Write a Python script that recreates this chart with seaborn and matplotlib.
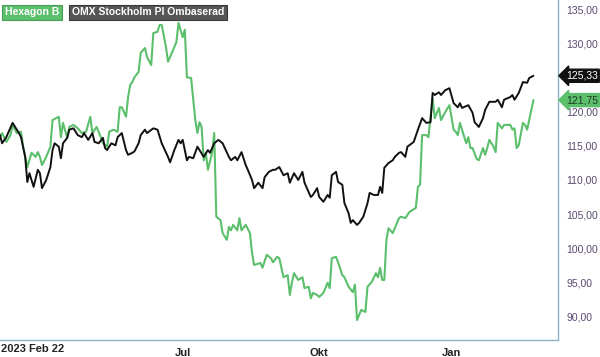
import seaborn as sns
import matplotlib.pyplot as plt
import matplotlib.transforms as mtransforms
import pandas as pd

# trading day number (0 = 2023 Feb 22) and closing level
omx_day = [0, 1, 3, 6, 9, 10, 12, 13, 14, 16, 18, 19, 20, 22, 24, 25, 26, 28, 29, 30,
           32, 33, 35, 37, 39, 40, 42, 44, 45, 47, 49, 50, 51, 53, 55, 56, 58, 60, 61, 63,
           64, 66, 67, 69, 70, 73, 75, 77, 80, 81, 83, 85, 86, 87, 89, 90, 92, 94, 95, 97,
           99, 100, 102, 104, 106, 109, 110, 112, 113, 115, 117, 118, 120, 121, 123, 125, 126, 128, 130, 131,
           133, 135, 137, 138, 140, 142, 144, 145, 148, 149, 151, 152, 154, 156, 157, 158, 160, 161, 163, 164,
           166, 167, 168, 170, 171, 173, 175, 176, 178, 180, 181, 182, 183, 185, 187, 188, 190, 191, 193, 194,
           197, 199, 201, 203, 205, 206, 207, 209, 210, 212, 214, 216, 218, 219, 220, 223, 225, 226, 228, 230,
           231, 233, 236, 237, 239, 240, 243, 244, 245, 247, 249, 251, 252, 254]
omx_val = [116.6, 115.4, 116.3, 118.4, 116.9, 116.3, 113.4, 109.7, 111.0, 109.0, 111.5, 111.0, 108.8, 110.0, 111.9, 114.4, 115.4, 114.9, 113.2, 115.4,
           116.2, 117.4, 117.6, 116.6, 116.3, 116.9, 115.9, 116.9, 115.6, 115.4, 116.2, 114.7, 114.4, 115.4, 115.1, 116.3, 116.9, 114.4, 113.7, 114.0,
           114.2, 115.4, 116.6, 117.4, 116.9, 117.6, 117.4, 115.4, 113.4, 112.6, 114.4, 115.9, 115.4, 115.9, 112.9, 113.4, 113.2, 114.9, 114.4, 113.4,
           114.4, 114.0, 115.4, 115.9, 115.4, 113.4, 112.9, 113.4, 112.9, 114.1, 112.2, 111.5, 110.0, 108.8, 109.6, 108.8, 110.4, 111.2, 111.5, 111.5,
           111.9, 110.7, 111.0, 109.6, 111.0, 110.0, 111.2, 109.6, 107.5, 107.8, 108.8, 107.5, 106.8, 107.8, 107.4, 110.7, 111.2, 109.7, 109.3, 106.6,
           105.1, 103.7, 104.1, 103.4, 103.7, 104.6, 106.6, 108.1, 107.8, 107.8, 109.0, 108.1, 111.8, 112.5, 112.9, 113.4, 114.0, 114.1, 113.4, 114.9,
           115.6, 117.4, 119.1, 118.4, 118.5, 122.8, 122.5, 122.9, 122.5, 123.2, 123.5, 121.3, 120.7, 121.3, 120.6, 121.0, 119.9, 118.5, 117.8, 119.1,
           120.3, 121.5, 121.5, 121.8, 120.7, 121.8, 122.2, 122.5, 121.8, 122.8, 124.4, 124.3, 125.0, 125.33]

hex_day = [0, 1, 3, 5, 6, 8, 10, 11, 12, 13, 15, 17, 18, 19, 20, 22, 24, 25, 28, 29,
           30, 32, 33, 35, 37, 39, 41, 43, 44, 46, 48, 49, 51, 52, 54, 56, 57, 58, 60, 61,
           62, 63, 64, 66, 67, 69, 70, 72, 73, 75, 76, 77, 79, 80, 82, 84, 85, 87, 88, 89,
           91, 93, 94, 95, 96, 97, 98, 99, 101, 102, 103, 105, 106, 108, 109, 110, 111, 113, 114, 115,
           117, 119, 120, 121, 124, 125, 127, 129, 130, 132, 133, 135, 137, 138, 139, 140, 142, 144, 145, 147,
           148, 149, 151, 152, 154, 156, 157, 158, 160, 161, 163, 164, 166, 168, 169, 170, 172, 174, 175, 177,
           179, 180, 181, 182, 183, 184, 185, 187, 188, 190, 191, 193, 195, 198, 199, 200, 201, 203, 204, 206,
           207, 209, 210, 212, 214, 216, 217, 218, 219, 220, 222, 223, 224, 225, 227, 228, 230, 231, 232, 233,
           235, 236, 237, 239, 240, 243, 244, 245, 246, 247, 249, 250, 251, 254]
hex_val = [116.3, 116.9, 115.6, 116.6, 118.1, 116.9, 117.1, 114.9, 113.4, 111.9, 114.0, 113.4, 114.1, 113.4, 112.2, 113.4, 114.9, 118.8, 119.3, 116.3,
           118.4, 116.2, 117.8, 118.1, 117.6, 116.9, 117.1, 119.3, 116.9, 117.8, 116.3, 115.4, 114.9, 117.1, 117.4, 117.1, 120.7, 120.7, 119.3, 122.2,
           124.0, 124.4, 125.1, 125.9, 128.7, 129.4, 128.1, 126.9, 131.6, 131.8, 132.8, 132.8, 129.6, 127.4, 128.8, 130.3, 133.1, 131.0, 132.1, 125.1,
           125.0, 118.8, 116.9, 118.5, 117.8, 112.9, 114.0, 111.5, 114.0, 116.9, 104.6, 104.1, 102.2, 101.2, 103.1, 102.6, 103.4, 102.6, 104.4, 102.6,
           103.4, 102.2, 99.3, 97.5, 97.8, 97.1, 99.0, 98.5, 97.9, 98.7, 98.5, 95.7, 96.0, 93.1, 94.9, 96.3, 95.3, 95.7, 94.1, 94.3,
           92.6, 93.4, 93.1, 92.8, 93.4, 94.9, 94.1, 98.5, 98.7, 97.9, 96.0, 95.7, 94.3, 93.5, 94.6, 89.4, 90.9, 90.6, 94.3, 95.0,
           96.3, 95.7, 97.1, 95.3, 95.3, 101.2, 102.9, 102.2, 102.9, 104.4, 104.6, 104.4, 105.3, 105.9, 109.0, 109.3, 116.6, 116.6, 116.3, 122.1,
           119.1, 120.6, 118.8, 120.0, 121.0, 117.4, 117.1, 116.6, 118.4, 117.4, 115.4, 116.3, 114.7, 114.7, 113.1, 112.9, 114.7, 113.7, 114.7, 115.9,
           114.9, 114.1, 118.4, 117.6, 118.1, 118.1, 117.4, 117.6, 114.7, 115.1, 118.4, 118.1, 117.4, 121.75]

tick_days = [27, 87, 152, 215]
tick_labels = ['', 'Jul', 'Okt', 'Jan']
y_ticks = [90, 95, 100, 105, 110, 115, 120, 130, 135]

green = '#5cbf6c'
spine_col = '#8db4cb'

sns.set_style('white')
plt.rcParams['font.family'] = ['Liberation Sans', 'DejaVu Sans']

fig = plt.figure(figsize=(6, 3.57), dpi=100)
ax = fig.add_axes([0.0, 0.0476, 0.93, 0.9524])

omx = pd.DataFrame({'day': omx_day, 'value': omx_val})
hexa = pd.DataFrame({'day': hex_day, 'value': hex_val})
sns.lineplot(data=hexa, x='day', y='value', color=green, linewidth=1.5, ax=ax, estimator=None)
sns.lineplot(data=omx, x='day', y='value', color='#111111', linewidth=1.4, ax=ax, estimator=None)

ax.set_xlim(0, 265.7)
ax.set_ylim(86.47, 136.47)
ax.set_xlabel('')
ax.set_ylabel('')

for side in ['top', 'left']:
    ax.spines[side].set_visible(False)
for side in ['right', 'bottom']:
    ax.spines[side].set_color(spine_col)
    ax.spines[side].set_linewidth(1.0)

ax.yaxis.tick_right()
ax.set_yticks(y_ticks)
ax.set_yticklabels(['%d,00' % v for v in y_ticks])
ax.tick_params(axis='y', length=0, pad=6, labelsize=7.5, labelcolor='#5a4870')

ax.set_xticks(tick_days)
ax.set_xticklabels(tick_labels)
ax.set_xticks([46], minor=True)
ax.tick_params(axis='x', which='major', direction='out', length=4, width=1, color=spine_col,
               pad=2, labelsize=8, labelcolor='#222222')
ax.tick_params(axis='x', which='minor', direction='out', length=4, width=1, color='#e8424a')
for lab in ax.get_xticklabels():
    lab.set_fontweight('bold')

# start date label under the axis
trans = mtransforms.blended_transform_factory(ax.transAxes, fig.transFigure)
ax.text(0.002, 0.008, '2023 Feb 22', transform=trans, ha='left', va='bottom',
        fontsize=8, fontweight='bold', color='#222222')

# series name boxes
fig.text(0.008, 0.966, 'Hexagon B', ha='left', va='center', fontsize=7.5, fontweight='bold',
         color='white', bbox=dict(boxstyle='square,pad=0.25', fc=green, ec='#4a9a58', lw=0.8))
fig.text(0.120, 0.966, 'OMX Stockholm PI Ombaserad', ha='left', va='center', fontsize=7.5,
         fontweight='bold', color='white',
         bbox=dict(boxstyle='square,pad=0.25', fc='#565656', ec='#3a3a3a', lw=0.8))

# last value markers on the right axis
vtrans = mtransforms.blended_transform_factory(ax.transAxes, ax.transData)
ax.text(1.014, omx_val[-1], '125,33', transform=vtrans, ha='left', va='center', fontsize=7.5,
        color='white', clip_on=False,
        bbox=dict(boxstyle='larrow,pad=0.15', fc='#111111', ec='#111111'))
ax.text(1.014, hex_val[-1], '121,75', transform=vtrans, ha='left', va='center', fontsize=7.5,
        color='#1d3d22', clip_on=False,
        bbox=dict(boxstyle='larrow,pad=0.15', fc=green, ec=green))

fig.savefig('out.png', dpi=100)
